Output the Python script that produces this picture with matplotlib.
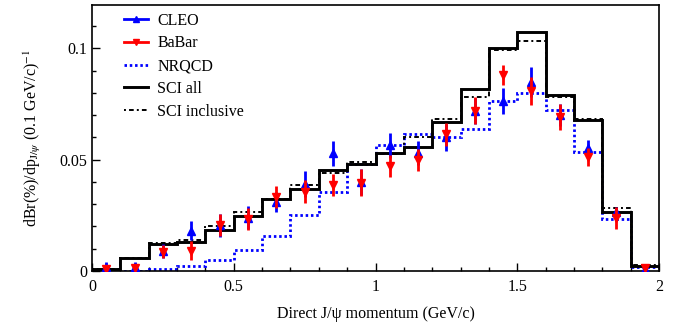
import matplotlib
matplotlib.use("Agg")
import matplotlib.pyplot as plt
from matplotlib.lines import Line2D
from matplotlib.ticker import MultipleLocator, FixedLocator
import numpy as np

plt.rcParams['font.family'] = ['Liberation Serif', 'DejaVu Serif']
plt.rcParams['mathtext.fontset'] = 'stix'

bin_edges = [0.0, 0.1, 0.2, 0.3, 0.4, 0.5, 0.6, 0.7, 0.8, 0.9, 1.0,
             1.1, 1.2, 1.3, 1.4, 1.5, 1.6, 1.7, 1.8, 1.9, 2.0]

sci_all = [0.001, 0.006, 0.0121, 0.0132, 0.0185, 0.0248, 0.0322, 0.0368, 0.0454, 0.0482,
           0.053, 0.0555, 0.067, 0.0817, 0.100, 0.1072, 0.079, 0.0677, 0.0263, 0.0024]
sci_incl = [0.001, 0.006, 0.0124, 0.0139, 0.0202, 0.0263, 0.0325, 0.0385, 0.0441, 0.049,
            0.0525, 0.060, 0.0684, 0.078, 0.0995, 0.1034, 0.0782, 0.0683, 0.0281, 0.0027]
nrqcd = [0.0002, 0.0002, 0.0008, 0.0023, 0.005, 0.0094, 0.0159, 0.0251, 0.0356, 0.048,
         0.0567, 0.0614, 0.0603, 0.0636, 0.0765, 0.0798, 0.0723, 0.0533, 0.0233, 0.0019]

cleo = [0.002, 0.002, 0.009, 0.0181, 0.0205, 0.024, 0.0311, 0.0392, 0.0528, 0.040,
        0.0565, 0.053, 0.060, 0.072, 0.0765, 0.085, 0.070, 0.0554, 0.0266, 0.001]
cleo_err = [0.002, 0.002, 0.003, 0.0043, 0.0052, 0.0052, 0.0045, 0.0058, 0.0058, 0.006,
            0.0056, 0.0056, 0.006, 0.0058, 0.0058, 0.0068, 0.005, 0.0035, 0.0022, 0.001]
babar = [0.0009, 0.0015, 0.0087, 0.0092, 0.0207, 0.0232, 0.0334, 0.0356, 0.0385, 0.0397,
         0.0472, 0.0498, 0.0614, 0.072, 0.088, 0.0808, 0.0693, 0.0513, 0.0237, 0.0013]
babar_err = [0.001, 0.0015, 0.0028, 0.0044, 0.005, 0.005, 0.005, 0.0052, 0.005, 0.006,
             0.0049, 0.005, 0.0052, 0.006, 0.0046, 0.0063, 0.0058, 0.004, 0.005, 0.0013]

edges = np.array(bin_edges)
centers = 0.5 * (edges[:-1] + edges[1:])

fig = plt.figure(figsize=(6.8, 3.27), dpi=100)
ax = fig.add_axes([92 / 680, 1 - 271 / 327, 567 / 680, 266 / 327])

blue = '#0000ff'
red = '#ff0000'
nr_ls = (0, (0.9, 1.0))
inc_ls = (0, (1, 1.6, 2.4, 1.6))

ax.stairs(nrqcd, edges, color=blue, lw=2.0, linestyle=nr_ls, baseline=None, zorder=2)
ax.stairs(sci_all, edges, color='black', lw=2.1, baseline=None, zorder=3)
ax.stairs(sci_incl, edges, color='black', lw=1.4, linestyle=inc_ls, baseline=None, zorder=3)

ax.errorbar(centers, cleo, yerr=cleo_err, fmt='^', color=blue, ms=5.5, elinewidth=2, capsize=0, zorder=4)
ax.errorbar(centers, babar, yerr=babar_err, fmt='v', color=red, ms=5.5, elinewidth=2, capsize=0, zorder=5)

ax.set_xlim(0, 2)
ax.set_ylim(0, 0.1195)
ax.xaxis.set_major_locator(FixedLocator([0, 0.5, 1, 1.5, 2]))
ax.set_xticklabels(['0', '0.5', '1', '1.5', '2'])
ax.xaxis.set_minor_locator(MultipleLocator(0.1))
ax.yaxis.set_major_locator(FixedLocator([0, 0.05, 0.1]))
ax.set_yticklabels(['0', '0.05', '0.1'])
ax.yaxis.set_minor_locator(MultipleLocator(0.01))
ax.tick_params(which='both', direction='in', top=False, right=False, labelsize=11.5)
ax.tick_params(which='major', length=6, width=1)
ax.tick_params(which='minor', length=3, width=1)
ax.tick_params(axis='x', pad=6)
for s in ax.spines.values():
    s.set_linewidth(1.2)

ax.set_xlabel('Direct J/\u03c8 momentum (GeV/c)', fontsize=11.5, labelpad=8)
ax.set_ylabel(r'dBr(%)/dp$_{\mathrm{J/}\psi}$ (0.1 GeV/c)$^{-1}$', fontsize=11.5, labelpad=12)

handles = [
    Line2D([], [], color=blue, lw=2, marker='^', ms=5),
    Line2D([], [], color=red, lw=2, marker='v', ms=5),
    Line2D([], [], color=blue, lw=2.0, linestyle=nr_ls),
    Line2D([], [], color='black', lw=2.1),
    Line2D([], [], color='black', lw=1.4, linestyle=inc_ls),
]
labels = ['CLEO', 'BaBar', 'NRQCD', 'SCI all', 'SCI inclusive']
ax.legend(handles, labels, loc='upper left', bbox_to_anchor=(0.045, 0.995), frameon=False,
          fontsize=11.5, handlelength=1.5, handletextpad=0.6, labelspacing=0.42, borderaxespad=0)

fig.savefig('out.png', dpi=100)
